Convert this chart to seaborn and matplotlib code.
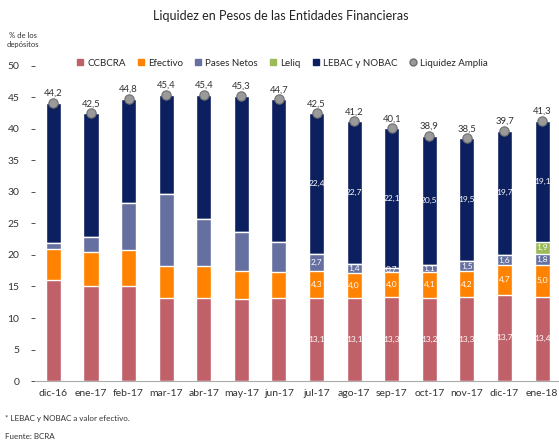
import numpy as np
import pandas as pd
import matplotlib
matplotlib.use('Agg')
import matplotlib.pyplot as plt
from matplotlib.lines import Line2D
import seaborn as sns

# data (% de los depósitos)
months = ['dic-16', 'ene-17', 'feb-17', 'mar-17', 'abr-17', 'may-17', 'jun-17',
          'jul-17', 'ago-17', 'sep-17', 'oct-17', 'nov-17', 'dic-17', 'ene-18']
ccbcra = [16.0, 15.0, 15.0, 13.2, 13.2, 13.0, 13.2, 13.1, 13.1, 13.3, 13.2, 13.3, 13.7, 13.4]
efectivo = [5.0, 5.5, 5.8, 5.0, 5.0, 4.4, 4.1, 4.3, 4.0, 4.0, 4.1, 4.2, 4.7, 5.0]
pases = [0.9, 2.4, 7.4, 11.5, 7.5, 6.2, 4.8, 2.7, 1.4, 0.7, 1.1, 1.5, 1.6, 1.8]
leliq = [0, 0, 0, 0, 0, 0, 0, 0, 0, 0, 0, 0, 0, 1.9]
total = [44.2, 42.5, 44.8, 45.4, 45.4, 45.3, 44.7, 42.5, 41.2, 40.1, 38.9, 38.5, 39.7, 41.3]
lebac_lbl = [None] * 7 + [22.4, 22.7, 22.1, 20.5, 19.5, 19.7, 19.1]

df = pd.DataFrame({'mes': months, 'ccbcra': ccbcra, 'efectivo': efectivo,
                   'pases': pases, 'leliq': leliq, 'total': total})
df['c1'] = df['ccbcra']
df['c2'] = df['c1'] + df['efectivo']
df['c3'] = df['c2'] + df['pases']
df['c4'] = df['c3'] + df['leliq']

colors = {'CCBCRA': '#C0616A', 'Efectivo': '#FF8200', 'Pases Netos': '#6670A0',
          'Leliq': '#9BBB59', 'LEBAC y NOBAC': '#0C1F5E'}

sns.set_style('white')
plt.rcParams['font.family'] = ['Lato', 'DejaVu Sans']

fig = plt.figure(figsize=(5.59, 4.4), dpi=100)
ax = fig.add_axes([34.6 / 559, 59 / 440, 1 - 34.6 / 559, 315 / 440])

# stacked bars drawn as overlapping cumulative totals
layers = [('total', 'LEBAC y NOBAC'), ('c4', 'Leliq'), ('c3', 'Pases Netos'),
          ('c2', 'Efectivo'), ('c1', 'CCBCRA')]
for col, name in layers:
    sns.barplot(data=df, x='mes', y=col, color=colors[name], width=0.4,
                saturation=1, ax=ax, order=months)

x = np.arange(len(months))
sns.scatterplot(x=x, y=df['total'], s=45, color='#9A9A9A', edgecolor='#6E6E6E',
                linewidth=0.8, ax=ax, zorder=5)

def fmt(v):
    return f'{v:.1f}'.replace('.', ',')

for i, t in enumerate(total):
    ax.text(i, t + 0.8, fmt(t), ha='center', va='bottom', fontsize=6.8, color='#333333')

for i in range(7, len(months)):
    ax.text(i, df['c1'][i] / 2, fmt(ccbcra[i]), ha='center', va='center', fontsize=6, color='white')
    ax.text(i, (df['c1'][i] + df['c2'][i]) / 2, fmt(efectivo[i]), ha='center', va='center',
            fontsize=6, color='white')
    ax.text(i, (df['c2'][i] + df['c3'][i]) / 2, fmt(pases[i]), ha='center', va='center',
            fontsize=6, color='white')
    if leliq[i] > 0:
        ax.text(i, (df['c3'][i] + df['c4'][i]) / 2, fmt(leliq[i]), ha='center', va='center',
                fontsize=6, color='white')
    ax.text(i, (df['c4'][i] + total[i]) / 2, fmt(lebac_lbl[i]), ha='center', va='center',
            fontsize=6, color='white')

ax.set_ylim(0, 50)
ax.set_xlim(-0.5, 13.45)
ax.set_yticks(range(0, 51, 5))
ax.set_xlabel('')
ax.set_ylabel('')
ax.tick_params(axis='y', labelsize=7.5, colors='#333333', length=3, width=0.6, left=True, pad=8)
ax.tick_params(axis='x', labelsize=7.5, colors='#333333', length=0, pad=6)
ax.set_xticks(x)
ax.set_xticklabels(months)
ax.set_xticks(np.arange(-0.5, 13.5, 1), minor=True)
ax.tick_params(axis='x', which='minor', length=3, width=0.6, color='#888888')
for s in ['top', 'right', 'left']:
    ax.spines[s].set_visible(False)
ax.spines['bottom'].set_color('#AAAAAA')
ax.spines['bottom'].set_linewidth(0.8)

handles = [Line2D([], [], marker='s', linestyle='', markersize=5, color=colors[n], label=n)
           for n in ['CCBCRA', 'Efectivo', 'Pases Netos', 'Leliq', 'LEBAC y NOBAC']]
handles.append(Line2D([], [], marker='o', linestyle='', markersize=5, markerfacecolor='#9A9A9A',
                      markeredgecolor='#6E6E6E', label='Liquidez Amplia'))
fig.legend(handles=handles, loc='center', bbox_to_anchor=(282 / 559, 1 - 63 / 440), ncol=6,
           frameon=False, fontsize=7, handlelength=0.8, handletextpad=0.3, columnspacing=1.2)

fig.text(281 / 559, 1 - 16 / 440, 'Liquidez en Pesos de las Entidades Financieras',
         ha='center', va='center', fontsize=9, color='#222222')
fig.text(23 / 559, 1 - 40 / 440, '% de los\ndepósitos', ha='center', va='center',
         fontsize=5.5, color='#333333', linespacing=1.4)
fig.text(5 / 559, 1 - 418 / 440, '* LEBAC y NOBAC a valor efectivo.', ha='left', va='center',
         fontsize=5.8, color='#333333')
fig.text(5 / 559, 1 - 436 / 440, 'Fuente: BCRA', ha='left', va='center',
         fontsize=5.8, color='#333333')

fig.savefig('out.png', dpi=100)
